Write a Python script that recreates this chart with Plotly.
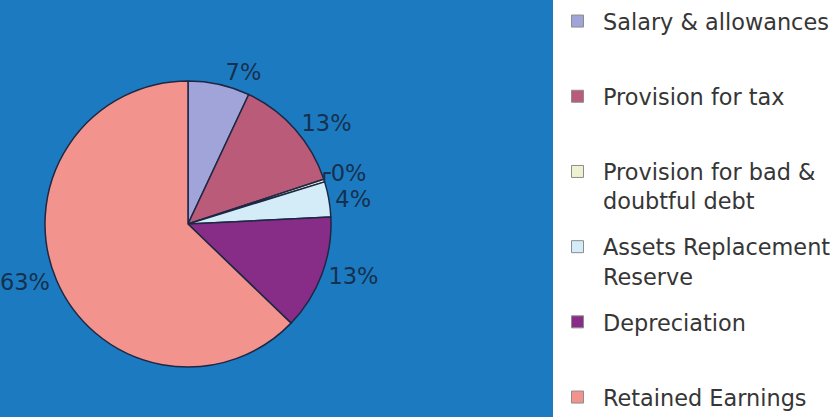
import plotly.graph_objects as go

# Distribution of income (share of total, %)
categories = [
    "Salary & allowances",
    "Provision for tax",
    "Provision for bad & doubtful debt",
    "Assets Replacement Reserve",
    "Depreciation",
    "Retained Earnings",
]
legend_labels = [
    "Salary & allowances",
    "Provision for tax",
    "Provision for bad &<br>doubtful debt",
    "Assets Replacement<br>Reserve",
    "Depreciation",
    "Retained Earnings",
]
shares = [7.0, 13.0, 0.3, 4.0, 13.0, 63.0]
colors = ["#a0a4d8", "#b95b79", "#eef2d2", "#d3ecf7", "#872d87", "#f2938d"]

W, H = 840, 417
BG = "#1c7bc0"

fig = go.Figure()

# pie centre and radius in pixels
cx, cy, r = 188, 224, 143
fig.add_trace(go.Pie(
    labels=categories,
    values=shares,
    sort=False,
    direction="clockwise",
    rotation=0,
    marker=dict(colors=colors, line=dict(color="#1e2744", width=1.5)),
    texttemplate="%{percent:.0%}",
    textposition="outside",
    outsidetextfont=dict(family="DejaVu Sans", size=22.5, color="#16304f"),
    showlegend=False,
    hoverinfo="label+percent",
    domain=dict(x=[(cx - r) / W, (cx + r) / W],
                y=[(H - cy - r) / H, (H - cy + r) / H]),
))

# legend entries: one per category, each in its own legend box
slot_first = 18
slot_step = 75.2
legend_layouts = {}
for i, (name, col) in enumerate(zip(legend_labels, colors)):
    key = "legend" if i == 0 else f"legend{i + 1}"
    fig.add_trace(go.Scatter(
        x=[None], y=[None], mode="markers", name=name,
        marker=dict(symbol="square", size=12, color=col,
                    line=dict(color="#8c8c8c", width=1)),
        legend=key, hoverinfo="skip",
    ))
    yc = slot_first + i * slot_step
    legend_layouts[key] = dict(
        x=552 / W, xanchor="left",
        y=1 - (yc - 18) / H, yanchor="top",
        valign="top",
        itemwidth=41,
        bgcolor="rgba(0,0,0,0)",
        borderwidth=0,
        font=dict(family="DejaVu Sans", size=22.4, color="#363636"),
        itemclick=False, itemdoubleclick=False,
    )

fig.update_layout(
    width=W, height=H,
    margin=dict(l=0, r=0, t=0, b=0, autoexpand=False),
    paper_bgcolor=BG,
    plot_bgcolor="rgba(0,0,0,0)",
    xaxis=dict(visible=False),
    yaxis=dict(visible=False),
    shapes=[dict(type="rect", xref="paper", yref="paper",
                 x0=553 / W, x1=1, y0=0, y1=1,
                 fillcolor="white", line=dict(width=0), layer="below")],
    **legend_layouts,
)

fig.write_html("out.html")
